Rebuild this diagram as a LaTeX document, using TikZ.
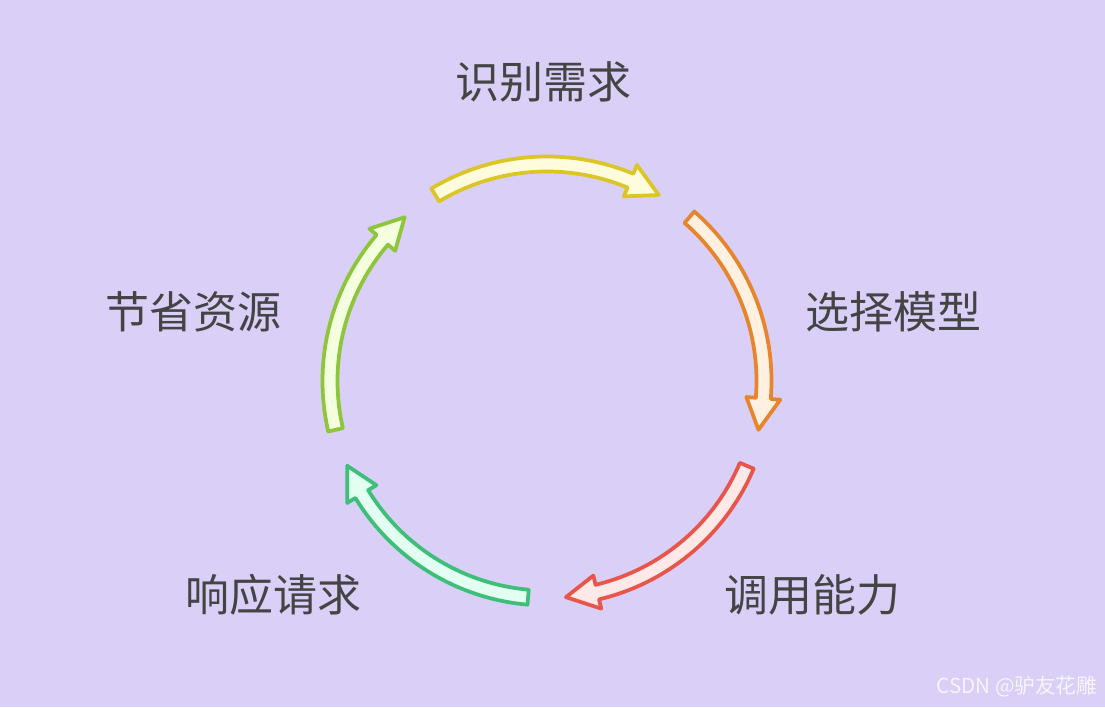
\documentclass[tikz,border=0pt]{standalone}
\usepackage{fontspec}
\setmainfont{Noto Sans CJK SC}
\definecolor{bg}{HTML}{D9CFF7}
\definecolor{txt}{HTML}{444444}
\definecolor{yline}{HTML}{DCC526}
\definecolor{yfill}{HTML}{FFFCDD}
\definecolor{oline}{HTML}{E6852B}
\definecolor{ofill}{HTML}{FFF0E2}
\definecolor{rline}{HTML}{E8564B}
\definecolor{rfill}{HTML}{FFE9E8}
\definecolor{gline}{HTML}{3DBF79}
\definecolor{gfill}{HTML}{E2FFF1}
\definecolor{lline}{HTML}{8DC53B}
\definecolor{lfill}{HTML}{F3FFDF}
\begin{document}
\begin{tikzpicture}[
    x=0.75pt, y=0.75pt,
    step label/.style={font=\fontsize{33}{40}\selectfont, text=txt},
    cycle arrow/.style={line width=2.8pt, line join=round}
  ]
  \fill[bg] (0,0) rectangle (1105,707);
  \useasboundingbox (0,0) rectangle (1105,707);
  % the five arrows of the cycle
  \begin{scope}[shift={(547,326)}]
    \foreach \s/\ln/\fl in {121/yline/yfill, 49/oline/ofill, -23/rline/rfill,
                            -95/gline/gfill, -167/lline/lfill} {
      \pgfmathsetmacro\e{\s-62}
      \pgfmathsetmacro\b{\e+8.4}
      \draw[cycle arrow, draw=\ln, fill=\fl]
        (\s:224.5) arc[start angle=\s, end angle=\b, radius=224.5]
        -- (\b:234) -- (\e:217) -- (\b:200) -- (\b:209.5)
        arc[start angle=\b, end angle=\s, radius=209.5] -- cycle;
    }
  \end{scope}
  % labels
  \node[step label] (need)    at (543,625) {识别需求};
  \node[step label] (select)  at (893,395) {选择模型};
  \node[step label] (call)    at (812,112) {调用能力};
  \node[step label] (respond) at (273,112) {响应请求};
  \node[step label] (save)    at (193,395) {节省资源};
  \node[anchor=east, font=\fontsize{15.5}{18}\selectfont, text=white!80!bg]
    (mark) at (1102,20) {CSDN @驴友花雕};
\end{tikzpicture}
\end{document}
